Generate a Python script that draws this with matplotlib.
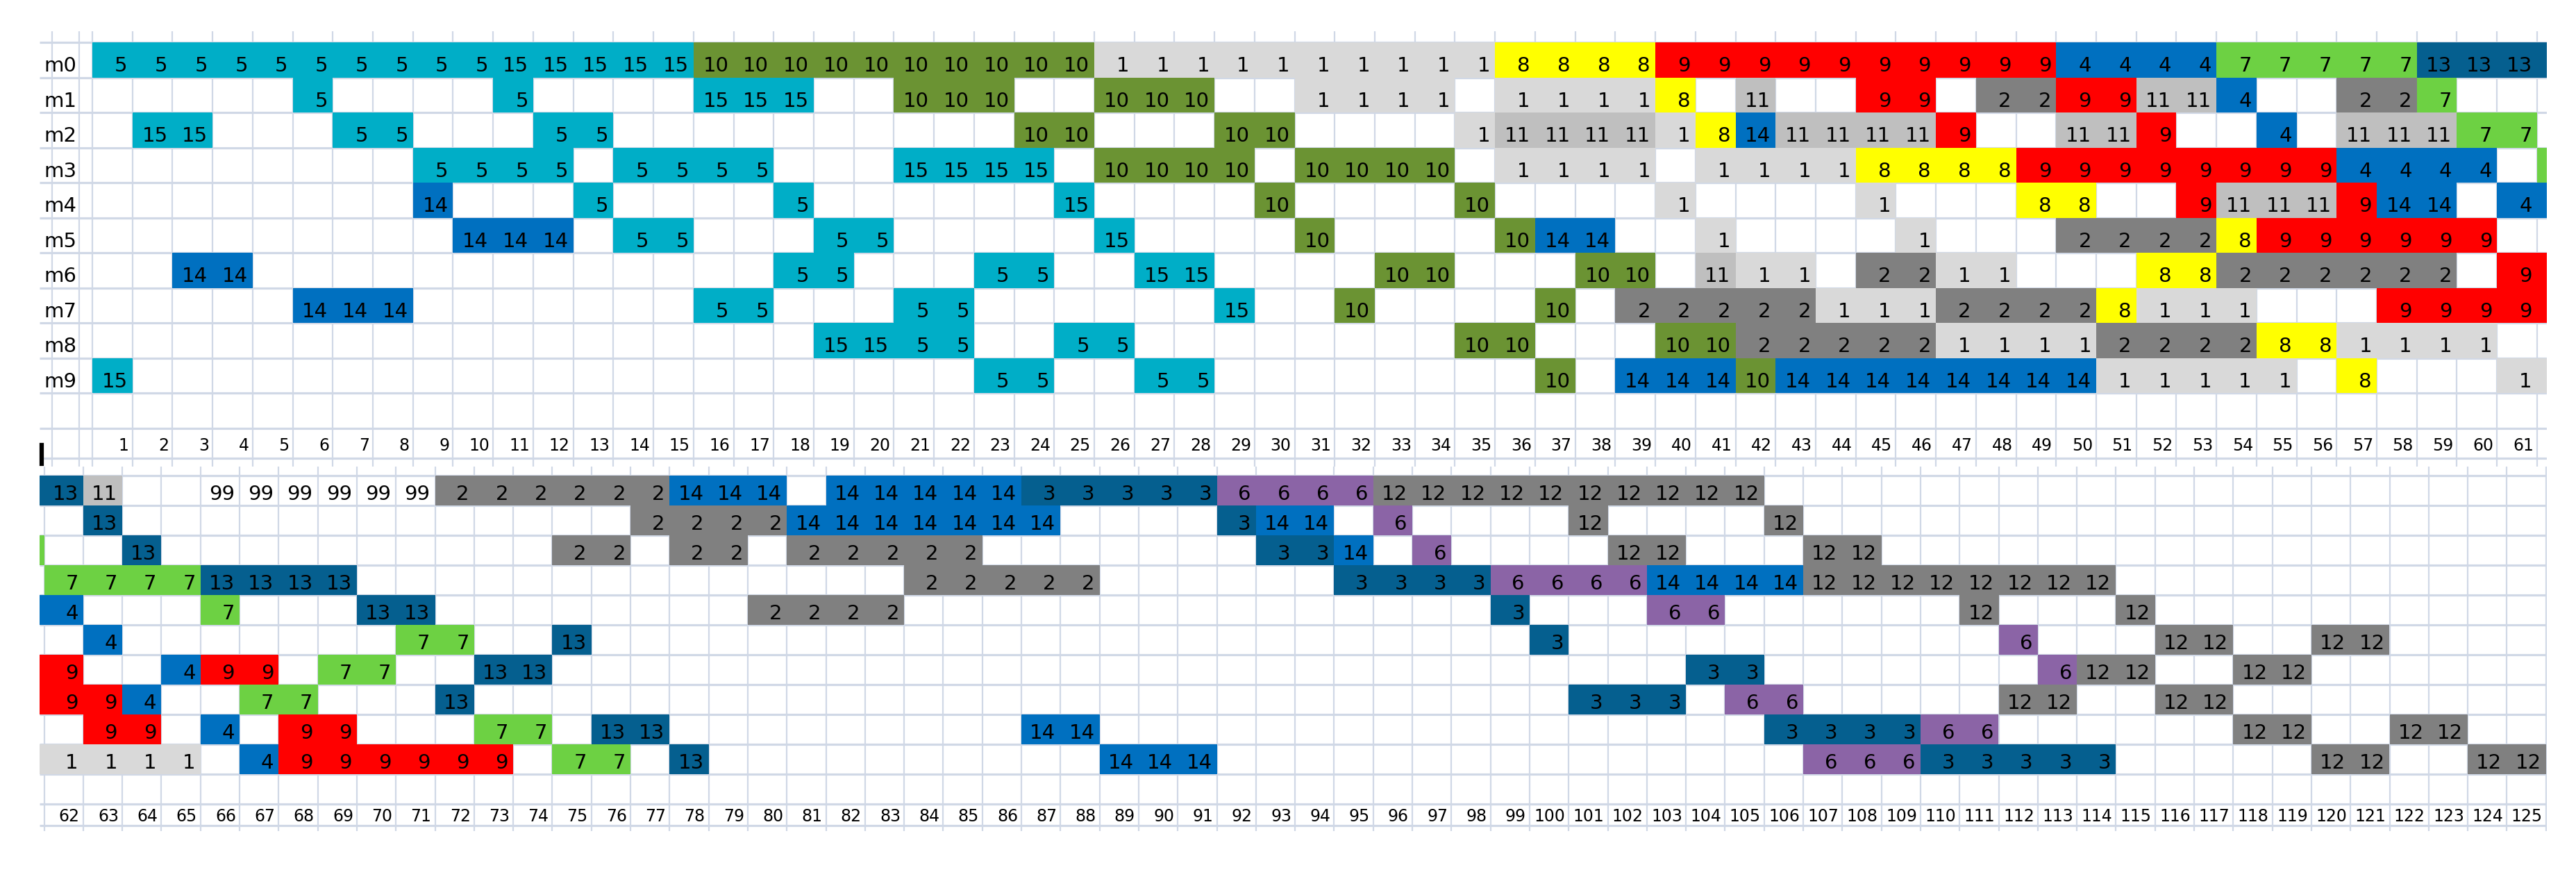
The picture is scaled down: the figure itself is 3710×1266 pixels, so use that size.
import matplotlib.pyplot as plt
from matplotlib.lines import Line2D

# job runs on each machine: (first column, last column, job number)
m0 = [(1, 10, 5), (11, 15, 15), (16, 25, 10), (26, 35, 1), (36, 39, 8), (40, 49, 9),
      (50, 53, 4), (54, 58, 7), (59, 62, 13), (63, 63, 11), (66, 71, 99), (72, 77, 2),
      (78, 80, 14), (82, 86, 14), (87, 91, 3), (92, 95, 6), (96, 105, 12)]
m1 = [(6, 6, 5), (11, 11, 5), (16, 18, 15), (21, 23, 10), (26, 28, 10), (31, 34, 1),
      (36, 39, 1), (40, 40, 8), (42, 42, 11), (45, 46, 9), (48, 49, 2), (50, 51, 9),
      (52, 53, 11), (54, 54, 4), (57, 58, 2), (59, 59, 7), (63, 63, 13), (77, 80, 2),
      (81, 87, 14), (92, 92, 3), (93, 94, 14), (96, 96, 6), (101, 101, 12), (106, 106, 12)]
m2 = [(2, 3, 15), (7, 8, 5), (12, 13, 5), (24, 25, 10), (29, 30, 10), (35, 35, 1),
      (36, 39, 11), (40, 40, 1), (41, 41, 8), (42, 42, 14), (43, 46, 11), (47, 47, 9),
      (50, 51, 11), (52, 52, 9), (55, 55, 4), (57, 59, 11), (60, 61, 7), (64, 64, 13),
      (75, 76, 2), (78, 79, 2), (81, 85, 2), (93, 94, 3), (95, 95, 14), (97, 97, 6),
      (102, 103, 12), (107, 108, 12)]
m3 = [(9, 12, 5), (14, 17, 5), (21, 24, 15), (26, 29, 10), (31, 34, 10), (36, 39, 1),
      (41, 44, 1), (45, 48, 8), (49, 56, 9), (57, 60, 4), (62, 65, 7), (66, 69, 13),
      (84, 88, 2), (95, 98, 3), (99, 102, 6), (103, 106, 14), (107, 114, 12)]
m4 = [(9, 9, 14), (13, 13, 5), (18, 18, 5), (25, 25, 15), (30, 30, 10), (35, 35, 10),
      (40, 40, 1), (45, 45, 1), (49, 50, 8), (53, 53, 9), (54, 56, 11), (57, 57, 9),
      (58, 59, 14), (61, 62, 4), (66, 66, 7), (70, 71, 13), (80, 83, 2), (99, 99, 3),
      (103, 104, 6), (111, 111, 12), (115, 115, 12)]
m5 = [(10, 12, 14), (14, 15, 5), (19, 20, 5), (26, 26, 15), (31, 31, 10), (36, 36, 10),
      (37, 38, 14), (41, 41, 1), (46, 46, 1), (50, 53, 2), (54, 54, 8), (55, 60, 9),
      (63, 63, 4), (71, 72, 7), (75, 75, 13), (100, 100, 3), (112, 112, 6),
      (116, 117, 12), (120, 121, 12)]
m6 = [(3, 4, 14), (18, 19, 5), (23, 24, 5), (27, 28, 15), (33, 34, 10), (38, 39, 10),
      (41, 41, 11), (42, 43, 1), (45, 46, 2), (47, 48, 1), (52, 53, 8), (54, 59, 2),
      (61, 62, 9), (65, 65, 4), (66, 67, 9), (69, 70, 7), (73, 74, 13), (104, 105, 3),
      (113, 113, 6), (114, 115, 12), (118, 119, 12)]
m7 = [(6, 8, 14), (16, 17, 5), (21, 22, 5), (29, 29, 15), (32, 32, 10), (37, 37, 10),
      (39, 43, 2), (44, 46, 1), (47, 50, 2), (51, 51, 8), (52, 54, 1), (58, 63, 9),
      (64, 64, 4), (67, 68, 7), (72, 72, 13), (101, 103, 3), (105, 106, 6),
      (112, 113, 12), (116, 117, 12)]
m8 = [(19, 20, 15), (21, 22, 5), (25, 26, 5), (35, 36, 10), (40, 41, 10), (42, 46, 2),
      (47, 50, 1), (51, 54, 2), (55, 56, 8), (57, 60, 1), (63, 64, 9), (66, 66, 4),
      (68, 69, 9), (73, 74, 7), (76, 77, 13), (87, 88, 14), (106, 109, 3),
      (110, 111, 6), (118, 119, 12), (122, 123, 12)]
m9 = [(1, 1, 15), (23, 24, 5), (27, 28, 5), (37, 37, 10), (39, 41, 14), (42, 42, 10),
      (43, 50, 14), (51, 55, 1), (57, 57, 8), (61, 65, 1), (67, 67, 4), (68, 73, 9),
      (75, 76, 7), (78, 78, 13), (89, 91, 14), (107, 109, 6), (110, 114, 3),
      (120, 121, 12), (124, 125, 12)]

machines = ["m0", "m1", "m2", "m3", "m4", "m5", "m6", "m7", "m8", "m9"]
top_cols = list(range(1, 62))
bottom_cols = list(range(62, 126))

job_colors = {1: "#D9D9D9", 11: "#BFBFBF", 2: "#808080", 12: "#808080",
              3: "#055F8F", 13: "#055F8F", 4: "#0070C0", 14: "#0070C0",
              5: "#00AEC7", 15: "#00AEC7", 6: "#8B64A6", 7: "#6DD143",
              8: "#FFFF00", 9: "#FF0000", 10: "#6B9333", 99: None}

W, H = 3710, 1266
GRID = "#D0D8E6"
FONT = ["Liberation Sans Narrow", "DejaVu Sans"]


def draw_panel(fig, cols, box, col_edge, col_w, row_top, row_h, head_base, head_line,
               labels=False):
    left, top, right, bottom = box
    ax = fig.add_axes([left / W, 1 - bottom / H, (right - left) / W, (bottom - top) / H])

    # pixel -> data helpers (column c spans c-0.5..c+0.5, row i spans i-0.5..i+0.5)
    def dx(px):
        return cols[0] - 0.5 + (px - col_edge) / col_w

    def dy(px):
        return -0.5 + (px - row_top) / row_h

    ax.set_xlim(dx(left), dx(right))
    ax.set_ylim(dy(bottom), dy(top))
    ax.axis("off")

    # sheet gridlines
    xs = [c + 0.5 for c in range(cols[0] - 2, cols[-1] + 2)]
    if labels:
        xs.append(dx(114))
    ax.vlines(xs, dy(bottom), dy(top), color=GRID, lw=1.6, zorder=1)
    ys = [i - 0.5 for i in range(12)] + [dy(head_line)]
    ax.hlines(ys, dx(left), dx(right), color=GRID, lw=2.3, zorder=1)

    pad = 7 / col_w
    for i, runs in enumerate([m0, m1, m2, m3, m4, m5, m6, m7, m8, m9]):
        for a, b, job in runs:
            if job_colors[job]:
                ax.barh(i, b - a + 1, left=a - 0.5, height=1, color=job_colors[job],
                        linewidth=0, zorder=2)
            # numbers only for the columns this pane shows in full
            for c in range(max(a, cols[0]), min(b, cols[-1]) + 1):
                ax.text(c + 0.5 - pad, i + 0.33, str(job), ha="right", va="baseline",
                        fontsize=21, family=FONT, color="black", zorder=3)
        if labels:
            ax.text(dx(63), i + 0.33, machines[i], ha="left", va="baseline",
                    fontsize=21, family=FONT, color="black", zorder=3)

    # column numbers under the grid
    for c in cols:
        ax.text(c + 0.5 - 5 / col_w, dy(head_base), str(c), ha="right", va="baseline",
                fontsize=17, family=FONT, color="black", zorder=3)
    return ax


fig = plt.figure(figsize=(W / 100, H / 100), dpi=100)
fig.patch.set_facecolor("white")

draw_panel(fig, top_cols, (57, 45, 3668, 672), 133, 57.72, 61.4, 50.5, 649, 660,
           labels=True)
draw_panel(fig, bottom_cols, (57, 672, 3668, 1197), 63.5, 56.3, 684.6, 43.0, 1183, 1189)

# split-pane marker at the left edge
fig.add_artist(Line2D([60 / W, 60 / W], [1 - 641 / H, 1 - 668 / H], color="black", lw=4.5))

fig.savefig("out.png", dpi=100, facecolor="white")
